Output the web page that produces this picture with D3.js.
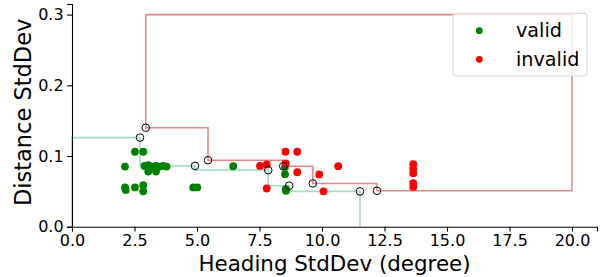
<!DOCTYPE html>
<html>
<head>
<meta charset="utf-8">
<script src="https://cdn.jsdelivr.net/npm/d3@7"></script>
<style>
  body { margin: 0; background: #fff; }
  svg { display: block; font-family: "DejaVu Sans", sans-serif; }
  .axis path, .axis line { stroke: #000; stroke-width: 1.1; }
  .axis text { font-size: 16px; fill: #000; font-family: "DejaVu Sans", sans-serif; }
</style>
</head>
<body>
<svg id="chart" width="601" height="277"></svg>
<script>
// scatter: valid runs
var validX = [2.52, 2.85, 2.12, 2.9, 3.05, 3.2, 3.35, 3.5, 3.65, 3.78, 3.05, 3.36,
              2.12, 2.15, 2.52, 2.85, 2.85, 4.85, 5.01, 6.45, 8.52, 8.52, 8.55, 8.56];
var validY = [0.106, 0.106, 0.085, 0.086, 0.087, 0.085, 0.086, 0.085, 0.086, 0.085, 0.078, 0.078,
              0.0556, 0.052, 0.0556, 0.0588, 0.050, 0.0556, 0.0556, 0.0856, 0.0846, 0.0743, 0.0532, 0.0508];

// scatter: invalid runs
var invalidX = [7.52, 7.79, 7.79, 8.54, 9.01, 8.55, 9.01, 9.89, 10.65, 10.06,
                13.65, 13.65, 13.65, 13.65, 13.65];
var invalidY = [0.086, 0.088, 0.054, 0.106, 0.106, 0.0894, 0.077, 0.074, 0.0856, 0.050,
                0.0884, 0.0821, 0.0757, 0.0616, 0.056];

// fronts
var greenFrontX = [2.72, 4.92, 7.85, 8.69, 11.52];
var greenFrontY = [0.126, 0.086, 0.080, 0.058, 0.050];
var redFrontX = [2.95, 5.44, 8.45, 9.63, 12.2];
var redFrontY = [0.140, 0.094, 0.0856, 0.0612, 0.0508];
var redRef = [20, 0.3];
var greenRef = [0, 0];

var xTicks = [0, 2.5, 5, 7.5, 10, 12.5, 15, 17.5, 20];
var yTicks = [0, 0.1, 0.2, 0.3];
var legendLabels = ["valid", "invalid"];

var svg = d3.select("#chart");
var plotLeft = 72, plotRight = 597, plotTop = 4, plotBottom = 226.7;

var x = d3.scaleLinear().domain([0, 21]).range([plotLeft, plotRight]);
var y = d3.scaleLinear().domain([0, 0.315]).range([plotBottom, plotTop]);

// green staircase (down-then-right)
var gPts = [[greenRef[0], greenRef[1]], [greenRef[0], greenFrontY[0]]];
greenFrontX.forEach(function (gx, i) {
  gPts.push([gx, greenFrontY[i]]);
  var nextY = i < greenFrontX.length - 1 ? greenFrontY[i + 1] : greenRef[1];
  gPts.push([gx, nextY]);
});

// red staircase (right-then-down), closed at the reference point
var rPts = [[redFrontX[0], redRef[1]]];
redFrontX.forEach(function (rx, i) {
  rPts.push([rx, redFrontY[i]]);
  var nextX = i < redFrontX.length - 1 ? redFrontX[i + 1] : redRef[0];
  rPts.push([nextX, redFrontY[i]]);
});
rPts.push([redRef[0], redRef[1]]);
rPts.push([redFrontX[0], redRef[1]]);

var line = d3.line().x(function (d) { return x(d[0]); }).y(function (d) { return y(d[1]); });

svg.append("path").datum(gPts).attr("d", line)
  .attr("fill", "none").attr("stroke", "#a3e2c2").attr("stroke-width", 1.6);
svg.append("path").datum(rPts).attr("d", line)
  .attr("fill", "none").attr("stroke", "#e88888").attr("stroke-width", 1.6);

// axes
var xAxis = d3.axisBottom(x).tickValues(xTicks).tickFormat(d3.format(".1f")).tickSizeOuter(0).tickSize(4.9).tickPadding(3.5);
var yAxis = d3.axisLeft(y).tickValues(yTicks).tickFormat(d3.format(".1f")).tickSizeOuter(0).tickSize(4.9).tickPadding(3.5);

svg.append("g").attr("class", "axis").attr("transform", "translate(0," + plotBottom + ")").call(xAxis);
svg.append("g").attr("class", "axis").attr("transform", "translate(" + plotLeft + ",0)").call(yAxis);
svg.selectAll(".axis text").attr("font-size", null);

// points
svg.append("g").selectAll("circle").data(validX).join("circle")
  .attr("cx", function (d) { return x(d); })
  .attr("cy", function (d, i) { return y(validY[i]); })
  .attr("r", 3.9).attr("fill", "#008000");

svg.append("g").selectAll("circle").data(invalidX).join("circle")
  .attr("cx", function (d) { return x(d); })
  .attr("cy", function (d, i) { return y(invalidY[i]); })
  .attr("r", 3.9).attr("fill", "#ff0000");

// front markers
var fronts = greenFrontX.map(function (d, i) { return [d, greenFrontY[i]]; })
  .concat(redFrontX.map(function (d, i) { return [d, redFrontY[i]]; }));
svg.append("g").selectAll("circle").data(fronts).join("circle")
  .attr("cx", function (d) { return x(d[0]); })
  .attr("cy", function (d) { return y(d[1]); })
  .attr("r", 3.8).attr("fill", "none").attr("stroke", "#000").attr("stroke-width", 1);

// axis titles
svg.append("text").attr("x", (plotLeft + plotRight) / 2).attr("y", 271)
  .attr("text-anchor", "middle").attr("font-size", 21.4).text("Heading StdDev (degree)");
svg.append("text").attr("transform", "translate(31," + ((plotBottom + plotTop) / 2 - 3) + ") rotate(-90)")
  .attr("text-anchor", "middle").attr("font-size", 22.5).text("Distance StdDev");

// legend
var lg = svg.append("g");
lg.append("rect").attr("x", 453).attr("y", 13.3).attr("width", 134).attr("height", 62.7)
  .attr("rx", 3).attr("fill", "#fff").attr("fill-opacity", 0.8).attr("stroke", "#d6d6d6");
var legendColors = ["#008000", "#ff0000"];
legendLabels.forEach(function (t, i) {
  var cy = 30.7 + i * 28.6;
  lg.append("circle").attr("cx", 479.3).attr("cy", cy).attr("r", 3.4).attr("fill", legendColors[i]);
  lg.append("text").attr("x", 516).attr("y", cy + 6.5).attr("font-size", 19.2).text(t);
});
</script>
</body>
</html>
